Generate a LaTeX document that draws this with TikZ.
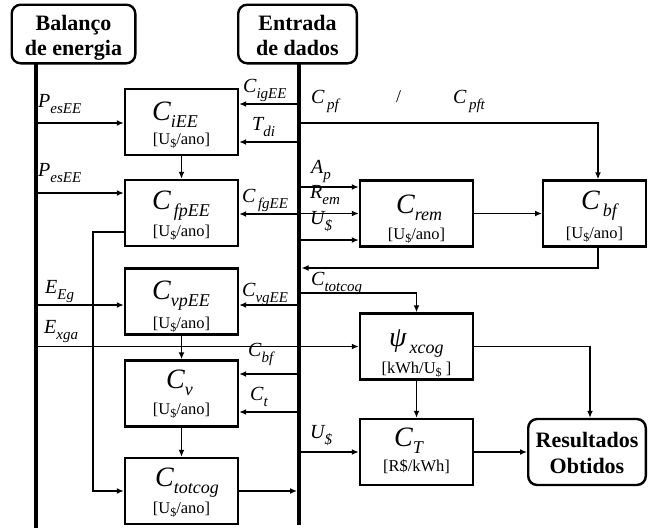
\documentclass[tikz,border=0pt]{standalone}
\usepackage{fontspec}
\setmainfont{Liberation Serif}
\usetikzlibrary{arrows.meta}

% text helpers
\newcommand\fsz[1]{\fontsize{#1}{#1}\selectfont}
\newcommand\lbl[2]{{\fsz{20}\itshape #1}\raisebox{-6pt}{\fsz{15}\itshape #2}}
\newcommand\bsym[2]{{\fsz{28}\itshape #1}\raisebox{-7pt}{\fsz{18}\itshape #2}}
\newcommand\usd{\raisebox{-3pt}{\fsz{12}\$}}
\newcommand\unitsz{\fsz{16.5}}

\tikzset{
  blk/.style={draw, line width=2.4pt, minimum width=113pt, minimum height=66pt, inner sep=0pt},
  ttl/.style={draw, line width=2.4pt, rounded corners=9pt, inner sep=0pt},
  ttltxt/.style={inner sep=0pt, anchor=base, font=\fsz{22}\bfseries},
  bus/.style={line width=4.5pt},
  arr/.style={line width=1.5pt, -{Latex[length=7pt,width=6pt]}},
  txt/.style={inner sep=0pt, anchor=base west},
  ctxt/.style={inner sep=0pt, anchor=base},
}

\begin{document}
\begin{tikzpicture}[x=1pt,y=-1pt]
\useasboundingbox (0,0) rectangle (649,528);

% ---- title boxes
\node[ttl, minimum width=123.6pt, minimum height=58.6pt] (bal) at (73.5,34) {};
\node[ttltxt] (balA) at (73.5,30) {Balanço};
\node[ttltxt] (balB) at (73.5,55) {de energia};
\node[ttl, minimum width=118.6pt, minimum height=58.6pt] (ent) at (297.5,34) {};
\node[ttltxt] (entA) at (297.5,30) {Entrada};
\node[ttltxt] (entB) at (297.5,55) {de dados};

% ---- calculation blocks
\node[blk] (ciee)  at (181.5,122) {};
\node[blk] (cfpee) at (181.5,213) {};
\node[blk] (cvpee) at (181.5,301.5) {};
\node[blk] (cv)    at (181.5,393.5) {};
\node[blk] (ctot)  at (181.5,491) {};
\node[blk] (crem)  at (416.5,213.5) {};
\node[blk, minimum width=102.6pt] (cbf) at (594.5,213.5) {};
\node[blk] (psi)   at (416.5,346.5) {};
\node[blk] (ct)    at (416.5,452) {};
\node[ttl, minimum width=117.6pt, minimum height=66pt] (res) at (587,452) {};
\node[ttltxt] (resA) at (587,447) {Resultados};
\node[ttltxt] (resB) at (587,473) {Obtidos};

% block contents
\node[txt] (tciee) at (152,120) {\bsym{C}{iEE}};
\node[ctxt] (uciee) at (181.5,144) {\unitsz[U\usd/ano]};
\node[txt] (tcfp) at (152,209) {\bsym{C}{\,fpEE}};
\node[ctxt] (ucfp) at (181.5,236) {\unitsz[U\usd/ano]};
\node[txt] (tcvp) at (152,299) {\bsym{C}{vpEE}};
\node[ctxt] (ucvp) at (181.5,328) {\unitsz[U\usd/ano]};
\node[txt] (tcv) at (166,388) {\bsym{C}{v}};
\node[ctxt] (ucv) at (181.5,414) {\unitsz[U\usd/ano]};
\node[txt] (tctot) at (155,486) {\bsym{C}{totcog}};
\node[ctxt] (uctot) at (181.5,513) {\unitsz[U\usd/ano]};
\node[txt] (tcrem) at (396,213) {\bsym{C}{rem}};
\node[ctxt] (ucrem) at (416.5,239) {\unitsz[U\usd/ano]};
\node[txt] (tcbf) at (581,209) {\bsym{C}{\,bf}};
\node[ctxt] (ucbf) at (594.5,238) {\unitsz[U\usd/ano]};
\node[txt] (tpsi) at (389,346) {\bsym{ψ}{\,xcog}};
\node[ctxt] (upsi) at (416.5,373) {\unitsz[kWh/U\usd\ ]};
\node[txt] (tct) at (394,446) {\bsym{C}{T}};
\node[ctxt] (uct) at (416.5,471) {\unitsz[R\$/kWh]};

% ---- bus coordinates
\coordinate (Ltop) at (36,64);
\coordinate (Lbot) at (36,528);
\coordinate (Rtop) at (299,64);
\coordinate (Rbot) at (299,525);

% ---- connectors from the energy balance bus
\coordinate (pes1) at (36,123);
\coordinate (pes2) at (36,193);
\coordinate (eeg)  at (36,305);
\coordinate (exga) at (36,346.5);
\draw[arr] (pes1) -- (ciee.west |- pes1);
\draw[arr] (pes2) -- (cfpee.west |- pes2);
\draw[arr] (eeg) -- (cvpee.west |- eeg);
\draw[arr] (exga) -- (psi.west |- exga);

% ---- connectors from the input-data bus to the left blocks
\coordinate (cig)  at (299,104);
\coordinate (tdi)  at (299,142);
\coordinate (cfg)  at (299,214);
\coordinate (cvg)  at (299,305);
\coordinate (cbf2) at (299,374);
\coordinate (ctin) at (299,412);
\draw[arr] (cig) -- (ciee.east |- cig);
\draw[arr] (tdi) -- (ciee.east |- tdi);
\draw[arr] (cfg) -- (cfpee.east |- cfg);
\draw[arr] (cvg) -- (cvpee.east |- cvg);
\draw[arr] (cbf2) -- (cv.east |- cbf2);
\draw[arr] (ctin) -- (cv.east |- ctin);

% ---- connectors from the input-data bus to the right blocks
\coordinate (cpf) at (299,123);
\coordinate (cpfc) at (598,123);
\draw[arr] (cpf) -- (cpfc) -- (cpfc |- cbf.north);
\coordinate (ap)  at (299,187);
\coordinate (rem) at (299,213.5);
\coordinate (us1) at (299,240);
\draw[arr] (ap) -- (crem.west |- ap);
\draw[arr] (rem) -- (crem.west |- rem);
\draw[arr] (us1) -- (crem.west |- us1);
\coordinate (ctg) at (299,293);
\coordinate (ctgc) at (psi.north |- ctg);
\draw[arr] (ctg) -- (ctgc) -- (psi.north);
\coordinate (us2) at (299,452);
\draw[arr] (us2) -- (ct.west);

% ---- block to block
\draw[arr] (ciee) -- (cfpee);
\draw[arr] (cvpee) -- (cv);
\draw[arr] (cv) -- (ctot);
\draw[arr] (crem) -- (cbf);
\draw[arr] (psi) -- (ct);
\draw[arr] (ct) -- (res);
\coordinate (psr) at (590,346.5);
\draw[arr] (psi.east) -- (psr) -- (psr |- res.north);
\coordinate (cbfo) at (598,268);
\coordinate (cbfR) at (301.5,268);
\draw[arr] (cbfo |- cbf.south) -- (cbfo) -- (cbfR);
\coordinate (fbk) at (93,232);
\draw[arr] (cfpee.west |- fbk) -- (fbk) -- (fbk |- ctot.west) -- (ctot.west);
\coordinate (totR) at (297,491);
\draw[arr] (ctot.east) -- (totR);

% ---- buses
\draw[bus] (Ltop) -- (Lbot);
\draw[bus] (Rtop) -- (Rbot);

% ---- connector labels
\node[txt] (lpes1) at (38,107) {\lbl{P}{esEE}};
\node[txt] (lpes2) at (38,176) {\lbl{P}{esEE}};
\node[txt] (leeg)  at (45,293) {\lbl{E}{Eg}};
\node[txt] (lexga) at (44,333) {\lbl{E}{xga}};
\node[txt] (lcig)  at (243,92) {\lbl{C}{igEE}};
\node[txt] (ltdi)  at (252,130) {\lbl{T}{di}};
\node[txt] (lcfg)  at (242,202) {\lbl{C}{\,fgEE}};
\node[txt] (lcvg)  at (242,296) {\lbl{C}{vgEE}};
\node[txt] (lcbf2) at (248,356) {\lbl{C}{bf}};
\node[txt] (lct)   at (250,400) {\lbl{C}{t}};
\node[txt] (lcpf)  at (311,103) {\lbl{C}{\,pf}};
\node[txt] (lslash) at (396,102) {\fsz{18}/};
\node[txt] (lcpft) at (453,103) {\lbl{C}{\,pft}};
\node[txt] (lap)   at (311,173) {\lbl{A}{p}};
\node[txt] (lrem)  at (310,198) {\lbl{R}{em}};
\node[txt] (lus1)  at (310,224) {\lbl{U}{\$}};
\node[txt] (lctg)  at (311,285) {\lbl{C}{totcog}};
\node[txt] (lus2)  at (310,438) {\lbl{U}{\$}};
\end{tikzpicture}
\end{document}
